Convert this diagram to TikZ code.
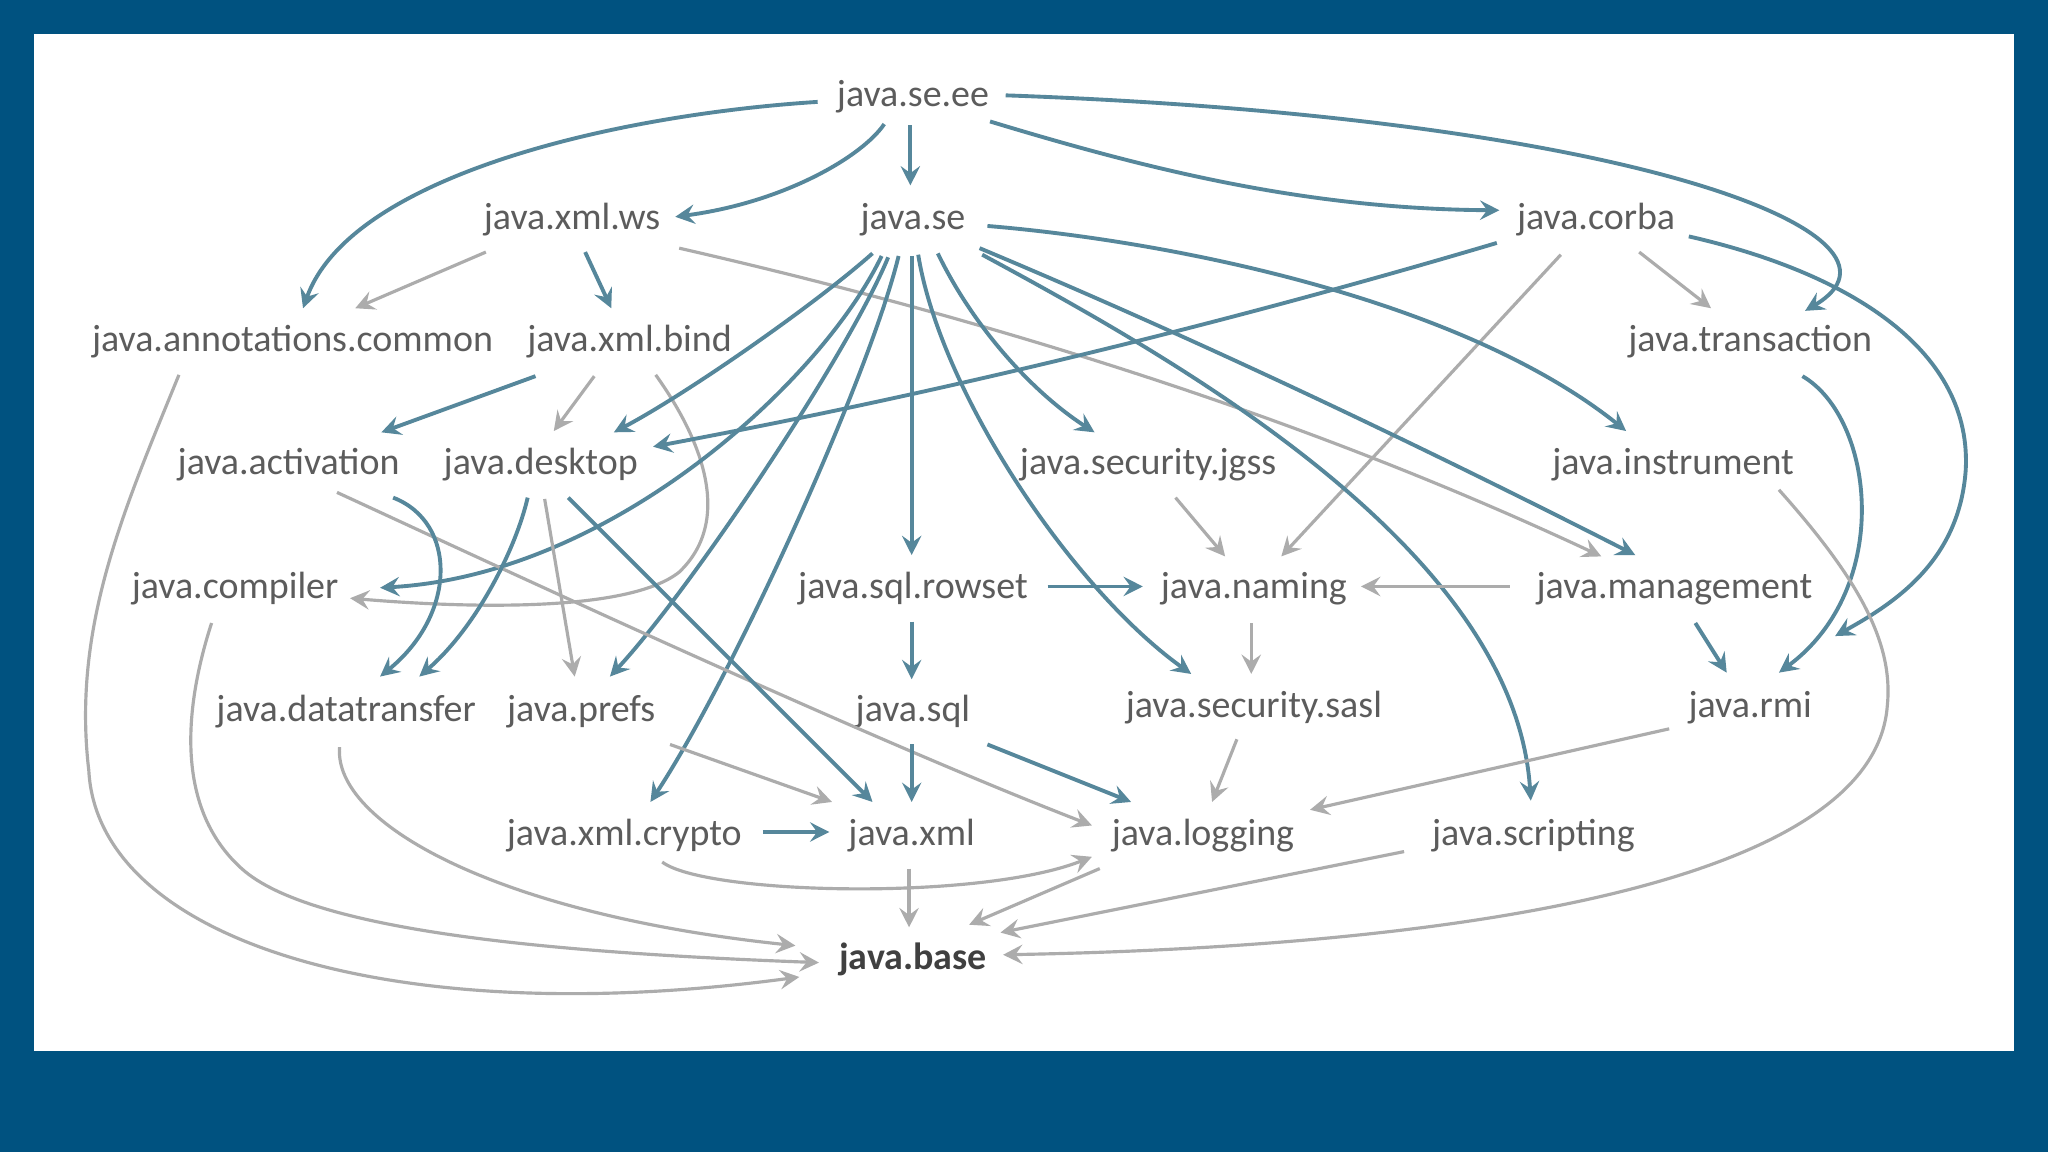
\documentclass[tikz,border=0pt]{standalone}
\usepackage{fontspec}
\setmainfont{Carlito}
\usetikzlibrary{arrows.meta,calc}
\definecolor{bgblue}{RGB}{0,82,128}
\definecolor{edgeblue}{RGB}{86,135,155}
\definecolor{edgegray}{RGB}{172,172,172}
\definecolor{txtgray}{RGB}{92,92,92}
\definecolor{txtdark}{RGB}{64,64,64}
\begin{document}
\begin{tikzpicture}[x=0.013061cm,y=-0.013061cm,
  mod/.style={font=\fontsize{10.8}{13}\selectfont, text=txtgray, inner sep=0pt,
    text height=9.5pt, text depth=2.5pt, anchor=center},
  basemod/.style={mod, font=\fontsize{10.8}{13}\selectfont\bfseries, text=txtdark},
  bl/.style={draw=edgeblue, line width=1.1pt, -{Stealth[length=5.5pt,width=5.5pt,inset=2pt]}},
  gr/.style={draw=edgegray, line width=0.9pt, -{Stealth[length=5.5pt,width=5.5pt,inset=2pt]}}]
\fill[bgblue] (0,0) rectangle (1568,882);
\fill[white] (26,26) rectangle (1542,805);
\useasboundingbox (0,0) rectangle (1568,882);
% nodes
\node[mod] (ee) at (699,72) {java.se.ee};
\node[mod] (ws) at (438,166) {java.xml.ws};
\node[mod] (se) at (699,166) {java.se};
\node[mod] (corba) at (1222,166) {java.corba};
\node[mod] (anno) at (224,260) {java.annotations.common};
\node[mod] (bind) at (482,260) {java.xml.bind};
\node[mod] (trans) at (1340,260) {java.transaction};
\node[mod] (act) at (221,354) {java.activation};
\node[mod] (desk) at (414,354) {java.desktop};
\node[mod] (jgss) at (879,354) {java.security.jgss};
\node[mod] (instr) at (1281,354) {java.instrument};
\node[mod] (comp) at (180,449) {java.compiler};
\node[mod] (rowset) at (699,449) {java.sql.rowset};
\node[mod] (naming) at (960,449) {java.naming};
\node[mod] (mgmt) at (1282,449) {java.management};
\node[mod] (dt) at (265,543) {java.datatransfer};
\node[mod] (prefs) at (445,543) {java.prefs};
\node[mod] (sql) at (699,543) {java.sql};
\node[mod] (sasl) at (960,540) {java.security.sasl};
\node[mod] (rmi) at (1340,540) {java.rmi};
\node[mod] (crypto) at (478,638) {java.xml.crypto};
\node[mod] (xml) at (698,638) {java.xml};
\node[mod] (logging) at (921,638) {java.logging};
\node[mod] (script) at (1174,638) {java.scripting};
\node[basemod] (base) at (699,733) {java.base};
% edges from java.se.ee
\draw[bl] ($(ee)+(-73,6)$) .. controls (470,88) and (268,135) .. ($(anno)+(8,-24)$);
\draw[bl] ($(ee)+(-22,23)$) .. controls (660,120) and (600,155) .. ($(ws)+(79,0)$);
\draw[bl] ($(ee)+(-2,24)$) -- ($(se)+(-2,-24)$);
\draw[bl] ($(ee)+(59,21)$) .. controls (880,130) and (1000,160) .. ($(corba)+(-74,-5)$);
\draw[bl] ($(ee)+(71,1)$) .. controls (1250,90) and (1480,180) .. ($(trans)+(42,-22)$);
% java.xml.ws
\draw[gr] ($(ws)+(-66,27)$) -- ($(anno)+(48,-24)$);
\draw[bl] ($(ws)+(10,27)$) -- ($(bind)+(-14,-24)$);
\draw[gr] ($(ws)+(82,24)$) .. controls (760,245) and (1000,320) .. ($(mgmt)+(-56,-23)$);
% java.xml.bind
\draw[bl] ($(bind)+(-72,28)$) -- ($(act)+(71,-23)$);
\draw[gr] ($(bind)+(-27,28)$) -- ($(desk)+(10,-24)$);
\draw[gr] ($(bind)+(20,27)$) .. controls (540,340) and (560,400) .. (520,438)
  .. controls (480,470) and (350,465) .. ($(comp)+(88,9)$);
% java.annotations.common
\draw[gr] ($(anno)+(-87,27)$) .. controls (95,390) and (55,480) .. (68,590)
  .. controls (75,720) and (300,790) .. ($(base)+(-87,15)$);
% java.corba
\draw[bl] ($(corba)+(-76,20)$) .. controls (930,250) and (714,302) .. ($(desk)+(86,-12)$);
\draw[gr] ($(corba)+(-27,29)$) -- ($(naming)+(21,-23)$);
\draw[gr] ($(corba)+(33,27)$) -- ($(trans)+(-30,-24)$);
\draw[bl] ($(corba)+(71,15)$) .. controls (1420,210) and (1510,270) .. (1505,360)
  .. controls (1500,430) and (1450,462) .. ($(rmi)+(65,-53)$);
% java.se
\draw[bl] ($(se)+(-31,28)$) .. controls (623,234) and (525,302) .. ($(desk)+(56,-23)$);
\draw[bl] ($(se)+(-24,30)$) .. controls (630,290) and (470,440) .. ($(comp)+(111,1)$);
\draw[bl] ($(se)+(-19,31)$) .. controls (650,270) and (530,450) .. ($(prefs)+(22,-25)$);
\draw[bl] ($(se)+(-11,30)$) .. controls (665,290) and (560,520) .. ($(crypto)+(20,-24)$);
\draw[bl] ($(se)+(-1,30)$) -- ($(rowset)+(-1,-24)$);
\draw[bl] ($(se)+(4,29)$) .. controls (720,300) and (820,450) .. ($(sasl)+(-48,-24)$);
\draw[bl] ($(se)+(19,28)$) .. controls (745,250) and (790,300) .. ($(jgss)+(-41,-23)$);
\draw[bl] ($(se)+(51,24)$) .. controls (917,260) and (1085,340) .. ($(mgmt)+(-30,-24)$);
\draw[bl] ($(se)+(53,29)$) .. controls (900,275) and (1160,420) .. ($(script)+(-2,-25)$);
\draw[bl] ($(se)+(57,7)$) .. controls (900,185) and (1120,230) .. ($(instr)+(-36,-24)$);
% java.transaction
\draw[bl] ($(trans)+(40,28)$) .. controls (1435,320) and (1450,450) .. ($(rmi)+(22,-25)$);
% java.instrument
\draw[gr] ($(instr)+(81,21)$) .. controls (1420,440) and (1450,490) .. (1445,540)
  .. controls (1435,680) and (1100,725) .. ($(base)+(69,-2)$);
% java.activation
\draw[gr] ($(act)+(37,23)$) .. controls (330,410) and (650,560) .. ($(logging)+(-85,-6)$);
\draw[bl] ($(act)+(80,27)$) .. controls (350,400) and (350,470) .. ($(dt)+(26,-25)$);
% java.desktop
\draw[bl] ($(desk)+(-10,27)$) .. controls (395,420) and (365,480) .. ($(dt)+(56,-25)$);
\draw[gr] ($(desk)+(3,28)$) -- ($(prefs)+(-5,-25)$);
\draw[bl] ($(desk)+(21,27)$) -- ($(xml)+(-30,-24)$);
% java.compiler
\draw[gr] ($(comp)+(-18,28)$) .. controls (140,545) and (135,620) .. (185,665)
  .. controls (240,715) and (440,730) .. ($(base)+(-72,4)$);
% java.datatransfer
\draw[gr] ($(dt)+(-5,29)$) .. controls (255,630) and (380,700) .. ($(base)+(-90,-9)$);
% java.prefs
\draw[gr] ($(prefs)+(68,27)$) -- ($(xml)+(-61,-24)$);
% java.sql.rowset
\draw[bl] ($(rowset)+(103,0)$) -- ($(naming)+(-85,0)$);
\draw[bl] ($(rowset)+(-1,27)$) -- ($(sql)+(-1,-23)$);
% java.sql
\draw[bl] ($(sql)+(-1,27)$) -- ($(xml)+(0,-24)$);
\draw[bl] ($(sql)+(57,27)$) -- ($(logging)+(-55,-24)$);
% java.security.jgss, java.naming, java.management
\draw[gr] ($(jgss)+(21,27)$) -- ($(naming)+(-22,-23)$);
\draw[gr] ($(naming)+(-2,28)$) -- ($(sasl)+(-2,-24)$);
\draw[gr] ($(mgmt)+(-126,0)$) -- ($(naming)+(82,0)$);
\draw[bl] ($(mgmt)+(16,28)$) -- ($(rmi)+(-18,-25)$);
% java.security.sasl, java.rmi
\draw[gr] ($(sasl)+(-13,26)$) -- ($(logging)+(7,-24)$);
\draw[gr] ($(rmi)+(-62,18)$) -- ($(logging)+(82,-18)$);
% java.xml.crypto
\draw[bl] ($(crypto)+(106,-1)$) -- ($(xml)+(-63,-1)$);
\draw[gr] ($(crypto)+(29,22)$) .. controls (540,685) and (750,690) .. ($(logging)+(-85,18)$);
% to java.base
\draw[gr] ($(xml)+(-2,27)$) -- ($(base)+(-3,-23)$);
\draw[gr] ($(logging)+(-79,27)$) -- ($(base)+(43,-25)$);
\draw[gr] ($(script)+(-99,14)$) -- ($(base)+(67,-19)$);
\end{tikzpicture}
\end{document}
